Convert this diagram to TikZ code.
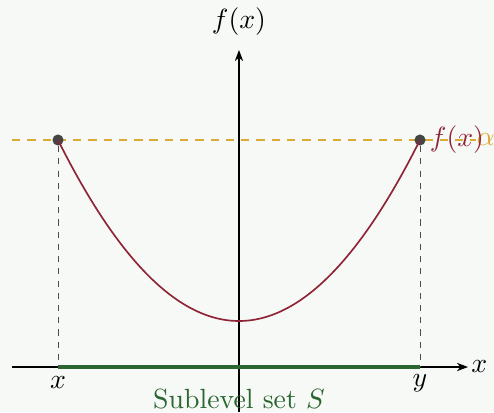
\documentclass[tikz,border=0pt]{standalone}
\usetikzlibrary{arrows.meta}
\definecolor{bg}{HTML}{F7F9F6}
\definecolor{curvered}{HTML}{8E2436}
\definecolor{levelgold}{HTML}{D9AA35}
\definecolor{setgreen}{HTML}{2A6630}
\definecolor{dotgray}{HTML}{454545}
\begin{document}
\begin{tikzpicture}[x=0.36pt,y=0.36pt,
  axis/.style={line width=0.4pt,-{Stealth[length=4pt,width=3pt]}},
  guide/.style={dashed,line width=0.3pt,black!70,dash pattern=on 2.2pt off 2.2pt},
  level/.style={dashed,line width=0.6pt,levelgold,dash pattern=on 3pt off 2.5pt},
  dot/.style={circle,fill=dotgray,inner sep=0pt,minimum size=4pt},
  lab/.style={inner sep=1pt}]
\fill[bg] (0,0) rectangle (494,412);
\useasboundingbox (0,0) rectangle (494,412);
% coordinates
\coordinate (xl) at (12,45);
\coordinate (xr) at (468,45);
\coordinate (yb) at (239,0);
\coordinate (yt) at (239,362);
\coordinate (ll) at (12,272);
\coordinate (lr) at (476,272);
\coordinate (fx) at (58,45);
\coordinate (fy) at (420,45);
% level line
\draw[level] (ll) -- (lr) node[right,inner sep=0pt,text=levelgold] (alpha) {$\alpha$};
% axes
\draw[axis] (xl) -- (xr) node[right,lab] (xlab) {$x$};
\draw[axis] (yb) -- (yt);
\node[lab] (flab) at (239,390) {$f(x)$};
% sublevel set
\draw[setgreen,line width=1.2pt] (fx) -- (fy);
% points
\node[dot] (p1) at (58,272) {};
\node[dot] (p2) at (420,272) {};
\draw[guide] (p1) -- (fx);
\draw[guide] (p2) -- (fy);
% curve
\draw[curvered,line width=0.6pt] plot[domain=-1:1,samples=120] ({239+181*\x},{91+181*\x*\x});
\node[text=curvered,lab] (fxlab) at (457,272) {$f(x)$};
% labels
\node[lab] (xlabel) at (58,29) {$x$};
\node[lab] (ylabel) at (420,29) {$y$};
\node[lab,text=setgreen] (slab) at (239,13) {Sublevel set $S$};
\end{tikzpicture}
\end{document}
